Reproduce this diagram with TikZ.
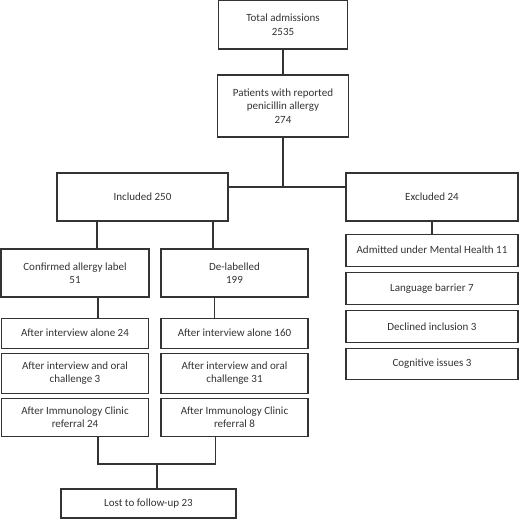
\documentclass[tikz,border=0pt]{standalone}
\usepackage{fontspec}
\setmainfont{Carlito}
\usetikzlibrary{positioning}
\definecolor{linegray}{HTML}{333333}

\begin{document}
\begin{tikzpicture}[
                    x=1pt, y=-1pt,
                    node distance=4pt,
                    color=linegray,
                    line width=1.1pt,
                    every node/.style={
                        rectangle,
                        draw,
                        align=center,
                        inner sep=2pt,
                        font=\fontsize{11}{13.5}\selectfont
                    }
                ]
                    \useasboundingbox (0,0) rectangle (520,519);

                    \node[minimum width=129pt, minimum height=49pt] (total) at (283,24.5) {Total admissions\\2535};
                    \node[minimum width=131pt, minimum height=62pt] (patients) at (283,106) {Patients with reported\\penicillin allergy\\274};
                    \node[minimum width=171pt, minimum height=48pt] (incl) at (142.5,197) {Included 250};
                    \node[minimum width=172pt, minimum height=48pt] (excl) at (432,197) {Excluded 24};

                    % Excluded
                    \node[minimum width=172pt, minimum height=32pt] (admitted) [below=12pt of excl] {Admitted under Mental Health 11};
                    \node[minimum width=172pt, minimum height=32pt] (language) [below=5pt of admitted] {Language barrier 7};
                    \node[minimum width=172pt, minimum height=32pt] (declined) [below=5pt of language] {Declined inclusion 3};
                    \node[minimum width=172pt, minimum height=31pt] (cognitive) [below=5pt of declined] {Cognitive issues 3};

                    % Included
                    \node[minimum width=148pt, minimum height=48pt] (confirmed) at (75,273) {Confirmed allergy label\\51};
                    \node[minimum width=147pt, minimum height=48pt] (delab) at (234.5,273) {De-labelled\\199};
                    \node[minimum width=147pt, minimum height=30pt] (alone1) [below=20pt of confirmed] {After interview alone 24};
                    \node[minimum width=147pt, minimum height=40pt] (oral1) [below=of alone1] {After interview and oral\\challenge 3};
                    \node[minimum width=147pt, minimum height=38pt] (clinic1) [below=of oral1] {After Immunology Clinic\\referral 24};
                    \node[minimum width=147pt, minimum height=30pt] (alone2) [below=20pt of delab] {After interview alone 160};
                    \node[minimum width=147pt, minimum height=40pt] (oral2) [below=of alone2] {After interview and oral\\challenge 31};
                    \node[minimum width=147pt, minimum height=38pt] (clinic2) [below=of oral2] {After Immunology Clinic\\referral 8};

                    \node[minimum width=175pt, minimum height=29pt] (lost) at (148.5,503.5) {Lost to follow-up 23};

                    \coordinate (split) at (283,187);
                    \coordinate (join) at (157,464);

                    % Edges
                    \draw (total) -- (patients);
                    \draw (patients) -- (split);
                    \draw (incl.east |- split) -- (excl.west |- split);
                    \draw (excl) -- (admitted);
                    \draw ([xshift=-45.5pt]incl.south) -- ([xshift=-45.5pt]incl.south |- confirmed.north);
                    \draw ([xshift=70.5pt]incl.south) -- ([xshift=70.5pt]incl.south |- delab.north);
                    \draw ([xshift=23pt]confirmed.south) -- ([xshift=23pt]confirmed.south |- alone1.north);
                    \draw ([xshift=-20pt]delab.south) -- ([xshift=-20pt]delab.south |- alone2.north);
                    \draw ([xshift=23pt]clinic1.south) |- (join) -| ([xshift=-19pt]clinic2.south);
                    \draw (join) -- (join |- lost.north);
                \end{tikzpicture}
\end{document}
